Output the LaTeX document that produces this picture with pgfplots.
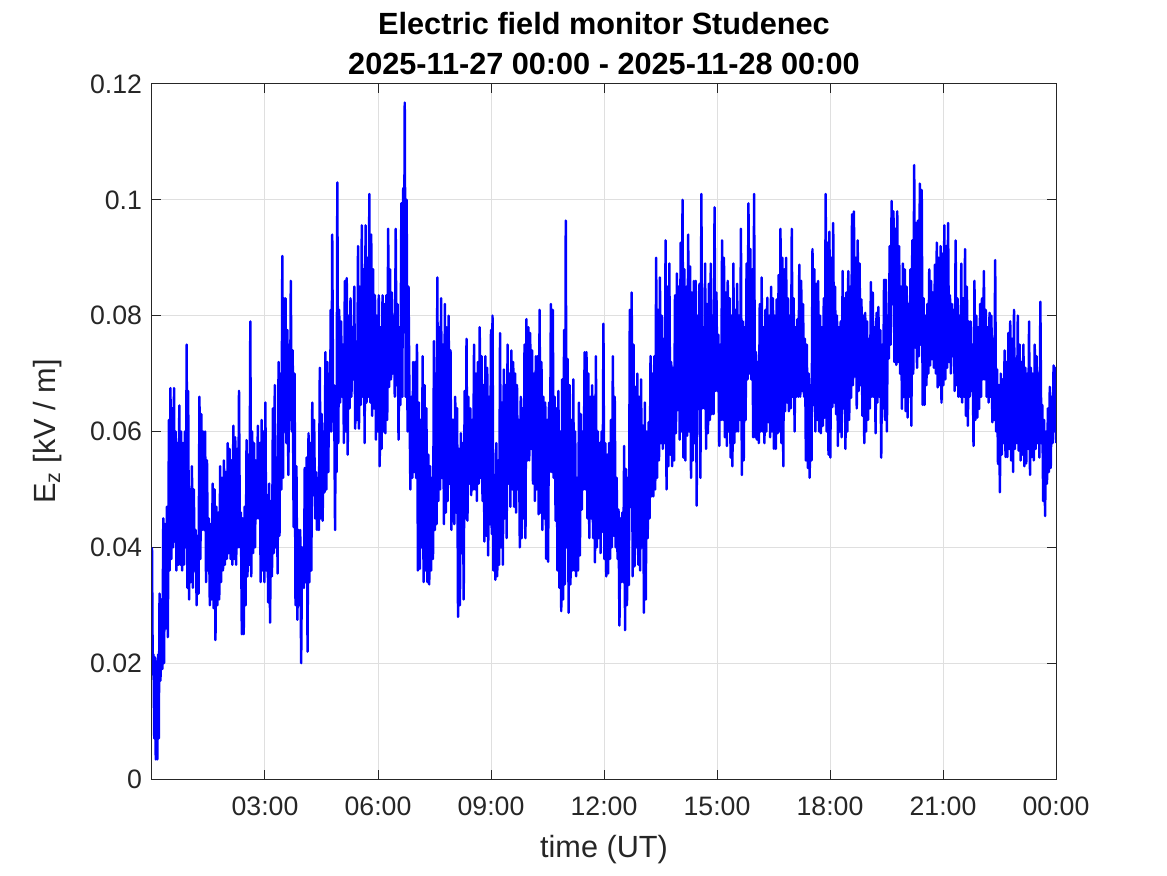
\documentclass[border=0pt]{standalone}
\usepackage{pgfplots}
\pgfplotsset{compat=1.18}
\usepackage{fontspec}
\setmainfont{Liberation Sans}
\definecolor{axgray}{RGB}{38,38,38}
\definecolor{gridgray}{RGB}{223,223,223}
\definecolor{mblue}{RGB}{0,0,255}
\begin{document}
\begin{tikzpicture}
\useasboundingbox (-114pt,-72pt) rectangle (761.25pt,584.25pt);
\begin{axis}[
 name=ax, at={(0,0)}, anchor=south west,
 scale only axis, width=678pt, height=521.25pt,
 xmin=0, xmax=24, ymin=0, ymax=0.12,
 xtick={3,6,9,12,15,18,21,24},
 xticklabels={03:00,06:00,09:00,12:00,15:00,18:00,21:00,00:00},
 ytick={0,0.02,0.04,0.06,0.08,0.1,0.12},
 yticklabels={0,0.02,0.04,0.06,0.08,0.1,0.12},
 scaled y ticks=false,
 grid=major, major grid style={gridgray, line width=0.75pt},
 axis line style={axgray, line width=0.75pt},
 major tick style={axgray, line width=0.75pt},
 major tick length=6.75pt,
 tick align=inside,
 ticklabel style={font=\fontsize{20}{24}\selectfont, text=axgray},
 xticklabel style={anchor=center, yshift=-20.25pt},
 yticklabel style={anchor=east, xshift=-4pt},
 xlabel={time (UT)}, ylabel={E\textsubscript{z} [kV / m]},
 label style={font=\fontsize{23}{27}\selectfont, text=axgray},
 xlabel style={at={(axis description cs:0.5,-0.102)}, anchor=center},
 ylabel style={at={(axis description cs:-0.116,0.5)}, anchor=center},
]
\addplot[mblue, line width=1.85pt, line join=round] coordinates {
(0.000,0.040)(0.020,0.018)(0.040,0.0215)(0.060,0.007)(0.080,0.021)(0.100,0.0034)(0.120,0.020)(0.140,0.0034)(0.160,0.0215)(0.180,0.007)
(0.200,0.032)(0.225,0.017)(0.250,0.031)(0.275,0.019)(0.300,0.045)(0.320,0.020)(0.345,0.044)(0.370,0.026)(0.395,0.047)(0.420,0.0245)
(0.450,0.062)(0.470,0.036)(0.490,0.0675)(0.515,0.038)(0.540,0.064)(0.560,0.040)(0.585,0.0675)(0.605,0.041)(0.630,0.060)(0.650,0.036)
(0.675,0.058)(0.700,0.037)(0.725,0.0645)(0.750,0.037)(0.775,0.060)(0.800,0.036)(0.825,0.058)(0.850,0.037)(0.875,0.060)(0.900,0.040)
(0.920,0.075)(0.940,0.033)(0.960,0.067)(0.985,0.031)(1.010,0.050)(1.030,0.034)(1.060,0.054)(1.085,0.033)(1.110,0.050)(1.135,0.036)
(1.160,0.043)(1.185,0.030)(1.210,0.042)(1.235,0.032)(1.260,0.066)(1.285,0.038)(1.310,0.063)(1.335,0.043)(1.360,0.060)(1.385,0.043)
(1.410,0.060)(1.435,0.034)(1.460,0.055)(1.485,0.036)(1.510,0.045)(1.535,0.030)(1.560,0.044)(1.585,0.031)(1.610,0.051)(1.635,0.0295)
(1.660,0.050)(1.685,0.024)(1.710,0.047)(1.735,0.030)(1.760,0.046)(1.785,0.031)(1.810,0.054)(1.835,0.034)(1.860,0.052)(1.885,0.036)
(1.910,0.055)(1.935,0.037)(1.960,0.053)(1.985,0.038)(2.010,0.058)(2.035,0.039)(2.060,0.057)(2.085,0.038)(2.110,0.055)(2.135,0.037)
(2.160,0.061)(2.185,0.038)(2.210,0.059)(2.235,0.037)(2.260,0.057)(2.285,0.040)(2.310,0.067)(2.335,0.040)(2.360,0.046)(2.385,0.025)
(2.410,0.045)(2.435,0.025)(2.460,0.047)(2.485,0.030)(2.510,0.0585)(2.535,0.035)(2.560,0.056)(2.585,0.037)(2.610,0.079)(2.635,0.035)
(2.660,0.060)(2.685,0.039)(2.710,0.058)(2.735,0.040)(2.760,0.055)(2.785,0.045)(2.810,0.061)(2.835,0.045)(2.860,0.058)(2.885,0.034)
(2.910,0.062)(2.935,0.036)(2.960,0.060)(2.985,0.034)(3.010,0.065)(3.035,0.036)(3.060,0.049)(3.085,0.0305)(3.110,0.051)(3.135,0.027)
(3.160,0.048)(3.185,0.035)(3.210,0.064)(3.235,0.039)(3.260,0.068)(3.285,0.040)(3.310,0.0555)(3.335,0.0355)(3.360,0.072)(3.385,0.042)
(3.410,0.070)(3.435,0.050)(3.460,0.0903)(3.480,0.052)(3.500,0.083)(3.520,0.060)(3.545,0.083)(3.570,0.058)(3.595,0.0775)(3.620,0.0525)
(3.645,0.075)(3.665,0.062)(3.685,0.086)(3.710,0.060)(3.735,0.074)(3.760,0.0435)(3.785,0.070)(3.810,0.030)(3.835,0.054)(3.860,0.0275)
(3.885,0.043)(3.910,0.030)(3.935,0.043)(3.960,0.020)(3.985,0.040)
(4.010,0.037)(4.035,0.033)(4.055,0.0537)(4.080,0.034)(4.105,0.0555)(4.130,0.022)(4.155,0.0597)(4.180,0.034)(4.205,0.058)(4.230,0.036)
(4.255,0.065)(4.280,0.049)(4.305,0.062)(4.330,0.045)(4.355,0.053)(4.380,0.043)(4.405,0.052)(4.430,0.043)(4.455,0.071)(4.480,0.045)
(4.505,0.063)(4.530,0.0446)(4.555,0.060)(4.580,0.0495)(4.605,0.0737)(4.630,0.050)(4.655,0.072)(4.680,0.053)(4.705,0.070)(4.725,0.060)
(4.745,0.081)(4.765,0.060)(4.785,0.094)(4.810,0.062)(4.835,0.068)(4.860,0.043)(4.880,0.066)(4.900,0.053)(4.920,0.103)(4.945,0.058)
(4.970,0.081)(4.995,0.065)(5.020,0.079)(5.045,0.066)(5.070,0.075)(5.095,0.058)(5.120,0.086)(5.145,0.060)(5.170,0.0865)(5.195,0.056)
(5.220,0.080)(5.245,0.064)(5.270,0.083)(5.295,0.066)(5.320,0.078)(5.345,0.069)(5.370,0.085)(5.395,0.0605)(5.420,0.0755)(5.445,0.062)
(5.470,0.092)(5.495,0.0605)(5.520,0.085)(5.545,0.0646)(5.570,0.0956)(5.595,0.066)(5.620,0.088)(5.645,0.058)(5.670,0.0956)(5.695,0.065)
(5.720,0.090)(5.745,0.066)(5.770,0.101)(5.795,0.065)(5.820,0.094)(5.845,0.0627)(5.870,0.088)(5.895,0.064)(5.920,0.0835)(5.945,0.0586)
(5.970,0.080)(5.995,0.060)(6.020,0.0835)(6.045,0.054)(6.070,0.078)(6.095,0.057)(6.120,0.0835)(6.145,0.060)(6.170,0.082)(6.195,0.0597)
(6.220,0.0835)(6.245,0.062)(6.270,0.095)(6.295,0.0677)(6.320,0.088)(6.345,0.069)(6.370,0.084)(6.395,0.070)(6.420,0.080)(6.445,0.066)
(6.470,0.095)(6.495,0.068)(6.520,0.082)(6.545,0.0586)(6.570,0.078)(6.595,0.0646)(6.620,0.0994)(6.645,0.066)(6.670,0.102)(6.690,0.081)
(6.710,0.1168)(6.735,0.066)(6.760,0.100)(6.785,0.060)(6.810,0.085)(6.835,0.066)(6.860,0.050)(6.885,0.066)(6.910,0.052)(6.935,0.072)
(6.960,0.053)(6.985,0.072)(7.010,0.052)(7.035,0.075)(7.060,0.036)(7.085,0.065)(7.110,0.0363)(7.135,0.062)(7.160,0.040)(7.185,0.073)
(7.210,0.034)(7.235,0.068)(7.260,0.036)(7.285,0.064)(7.310,0.034)(7.335,0.056)(7.360,0.0336)(7.385,0.054)(7.410,0.036)(7.435,0.052)
(7.460,0.038)(7.485,0.0756)(7.510,0.043)(7.535,0.070)(7.555,0.044)(7.575,0.0866)(7.600,0.048)(7.625,0.078)(7.650,0.050)(7.675,0.083)
(7.700,0.052)(7.725,0.075)(7.750,0.044)(7.775,0.082)(7.800,0.046)(7.825,0.078)(7.850,0.048)(7.875,0.080)(7.900,0.051)(7.925,0.074)
(7.950,0.043)(7.975,0.062)
(8.000,0.062)(8.025,0.044)(8.050,0.066)(8.075,0.046)(8.100,0.064)(8.125,0.028)(8.150,0.057)(8.175,0.030)(8.200,0.0597)(8.225,0.039)
(8.250,0.058)(8.275,0.031)(8.300,0.067)(8.325,0.045)(8.350,0.076)(8.375,0.0446)(8.400,0.066)(8.425,0.051)(8.450,0.064)(8.475,0.049)
(8.500,0.062)(8.525,0.050)(8.550,0.075)(8.575,0.050)(8.600,0.070)(8.625,0.048)(8.650,0.072)(8.675,0.051)(8.700,0.078)(8.725,0.052)
(8.750,0.073)(8.775,0.048)(8.800,0.068)(8.825,0.041)(8.850,0.073)(8.875,0.042)(8.900,0.071)(8.925,0.0386)(8.950,0.066)(8.975,0.044)
(9.000,0.0775)(9.020,0.0423)(9.040,0.080)(9.065,0.036)(9.090,0.0525)(9.115,0.0344)(9.140,0.058)(9.165,0.035)(9.190,0.055)(9.215,0.037)
(9.240,0.077)(9.265,0.040)(9.290,0.065)(9.315,0.037)(9.340,0.0707)(9.365,0.045)(9.390,0.068)(9.415,0.0416)(9.440,0.075)(9.465,0.051)
(9.490,0.070)(9.515,0.047)(9.540,0.074)(9.565,0.050)(9.590,0.072)(9.615,0.047)(9.640,0.070)(9.665,0.046)(9.690,0.068)(9.715,0.050)
(9.740,0.062)(9.765,0.040)(9.790,0.066)(9.815,0.0416)(9.840,0.064)(9.865,0.045)(9.890,0.075)(9.915,0.0416)(9.940,0.0794)(9.965,0.055)
(9.990,0.078)(10.015,0.055)(10.040,0.077)(10.065,0.057)(10.090,0.074)(10.115,0.051)(10.140,0.070)(10.165,0.048)(10.190,0.073)(10.215,0.050)
(10.240,0.073)(10.265,0.0457)(10.290,0.081)(10.315,0.046)(10.340,0.072)(10.365,0.043)(10.390,0.066)(10.415,0.045)(10.440,0.065)(10.465,0.038)
(10.490,0.062)(10.515,0.0375)(10.540,0.065)(10.565,0.053)(10.590,0.082)(10.615,0.053)(10.640,0.081)(10.665,0.052)(10.690,0.066)(10.715,0.0446)
(10.740,0.064)(10.765,0.036)(10.790,0.067)(10.815,0.033)(10.840,0.060)(10.865,0.029)(10.890,0.069)(10.915,0.031)(10.940,0.0775)(10.960,0.0336)
(10.985,0.0964)(11.010,0.040)(11.035,0.0725)(11.060,0.0287)(11.085,0.068)(11.110,0.0336)(11.135,0.062)(11.160,0.036)(11.185,0.069)(11.210,0.036)
(11.235,0.060)(11.260,0.035)(11.285,0.052)(11.310,0.036)(11.335,0.065)(11.360,0.0386)(11.385,0.063)(11.410,0.0465)(11.435,0.060)(11.460,0.050)
(11.485,0.0737)(11.510,0.050)(11.535,0.0737)(11.560,0.045)(11.585,0.070)(11.610,0.0416)(11.635,0.066)(11.660,0.045)(11.685,0.068)(11.710,0.0416)
(11.735,0.066)(11.760,0.0374)(11.785,0.073)(11.810,0.040)(11.835,0.060)(11.860,0.0416)(11.885,0.058)(11.910,0.039)(11.935,0.060)(11.960,0.0427)
(11.985,0.0786)
(12.010,0.038)(12.035,0.058)(12.060,0.035)(12.085,0.056)(12.110,0.0355)(12.135,0.058)(12.160,0.038)(12.185,0.062)(12.210,0.040)(12.235,0.073)
(12.260,0.042)(12.285,0.066)(12.310,0.040)(12.335,0.052)(12.360,0.038)(12.385,0.0465)(12.410,0.0265)(12.435,0.045)(12.460,0.034)(12.485,0.046)
(12.510,0.034)(12.535,0.0575)(12.560,0.0257)(12.585,0.0535)(12.610,0.030)(12.635,0.052)(12.660,0.0335)(12.685,0.081)(12.710,0.047)(12.735,0.084)
(12.760,0.035)(12.785,0.075)(12.810,0.0367)(12.835,0.0677)(12.860,0.040)(12.885,0.070)(12.910,0.037)(12.935,0.066)(12.960,0.036)(12.985,0.069)
(13.010,0.040)(13.035,0.061)(13.060,0.0287)(13.085,0.065)(13.110,0.031)(13.135,0.060)(13.160,0.0416)(13.185,0.0616)(13.210,0.045)(13.235,0.073)
(13.260,0.0488)(13.285,0.070)(13.310,0.0488)(13.335,0.073)(13.360,0.050)(13.385,0.090)(13.410,0.052)(13.435,0.081)(13.460,0.055)(13.485,0.0866)
(13.510,0.058)(13.535,0.080)(13.560,0.057)(13.585,0.076)(13.610,0.058)(13.635,0.093)(13.660,0.050)(13.685,0.085)(13.710,0.054)(13.735,0.089)
(13.760,0.056)(13.785,0.072)(13.810,0.054)(13.835,0.071)(13.860,0.055)(13.885,0.0835)(13.910,0.0597)(13.935,0.0873)(13.960,0.0637)(13.985,0.085)
(14.010,0.0586)(14.035,0.0926)(14.060,0.060)(14.085,0.100)(14.110,0.0555)(14.135,0.088)(14.160,0.055)(14.185,0.085)(14.210,0.0593)(14.235,0.094)
(14.260,0.060)(14.285,0.0885)(14.310,0.052)(14.335,0.084)(14.360,0.055)(14.385,0.086)(14.410,0.058)(14.435,0.086)(14.460,0.0472)(14.485,0.080)
(14.510,0.0639)(14.535,0.0855)(14.560,0.052)(14.585,0.101)(14.610,0.064)(14.635,0.078)(14.660,0.064)(14.685,0.089)(14.710,0.057)(14.735,0.082)
(14.760,0.0597)(14.785,0.0855)(14.810,0.062)(14.835,0.089)(14.860,0.063)(14.885,0.080)(14.910,0.063)(14.935,0.0987)(14.960,0.067)(14.985,0.084)
(15.010,0.067)(15.035,0.0767)(15.060,0.0575)(15.085,0.075)(15.110,0.062)(15.135,0.093)(15.160,0.062)(15.185,0.090)(15.210,0.059)(15.235,0.084)
(15.260,0.0575)(15.285,0.086)(15.310,0.060)(15.335,0.083)(15.360,0.0555)(15.385,0.080)(15.410,0.054)(15.435,0.089)(15.460,0.058)(15.485,0.081)
(15.510,0.060)(15.535,0.0855)(15.560,0.060)(15.585,0.080)(15.610,0.062)(15.635,0.095)(15.660,0.0525)(15.685,0.079)(15.710,0.055)(15.735,0.078)
(15.760,0.062)(15.785,0.089)(15.810,0.069)(15.835,0.0994)(15.860,0.070)(15.885,0.0915)(15.910,0.069)(15.935,0.088)(15.960,0.059)(15.985,0.101)
(16.010,0.059)(16.035,0.0737)(16.060,0.0586)(16.085,0.072)(16.110,0.058)(16.135,0.082)(16.160,0.060)(16.185,0.0866)(16.210,0.060)(16.235,0.078)
(16.260,0.058)(16.285,0.081)(16.310,0.060)(16.335,0.0831)(16.360,0.0616)(16.385,0.080)(16.410,0.059)(16.435,0.085)(16.460,0.060)(16.485,0.083)
(16.510,0.057)(16.535,0.080)(16.560,0.057)(16.585,0.0828)(16.610,0.0597)(16.635,0.087)(16.660,0.060)(16.685,0.095)(16.710,0.058)(16.735,0.090)
(16.760,0.054)(16.785,0.088)(16.810,0.0635)(16.835,0.090)(16.860,0.065)(16.885,0.083)(16.910,0.0635)(16.935,0.080)(16.960,0.064)(16.985,0.095)
(17.010,0.066)(17.035,0.083)(17.060,0.060)(17.085,0.078)(17.110,0.066)(17.135,0.0794)(17.160,0.066)(17.185,0.0888)(17.210,0.066)(17.235,0.086)
(17.260,0.067)(17.285,0.082)(17.310,0.066)(17.335,0.076)(17.360,0.055)(17.385,0.075)(17.410,0.0537)(17.435,0.070)(17.460,0.052)(17.485,0.068)
(17.510,0.055)(17.535,0.0915)(17.560,0.0646)(17.585,0.088)(17.610,0.060)(17.635,0.0855)(17.660,0.062)(17.685,0.086)(17.710,0.060)(17.735,0.080)
(17.760,0.0597)(17.785,0.078)(17.810,0.061)(17.835,0.083)(17.860,0.0624)(17.885,0.101)(17.910,0.060)(17.935,0.0926)(17.960,0.056)(17.985,0.0945)
(18.010,0.0555)(18.035,0.090)(18.060,0.0642)(18.085,0.096)(18.110,0.065)(18.135,0.085)(18.160,0.063)(18.185,0.080)(18.210,0.0575)(18.235,0.078)
(18.260,0.060)(18.285,0.079)(18.310,0.059)(18.335,0.0877)(18.360,0.064)(18.385,0.083)(18.410,0.057)(18.435,0.084)(18.460,0.060)(18.485,0.0877)
(18.510,0.062)(18.535,0.085)(18.560,0.0658)(18.585,0.0975)(18.610,0.068)(18.635,0.098)(18.660,0.0695)(18.685,0.090)(18.710,0.064)(18.735,0.093)
(18.760,0.067)(18.785,0.089)(18.810,0.068)(18.835,0.0828)(18.860,0.0627)(18.885,0.080)(18.910,0.058)(18.935,0.0805)(18.960,0.060)(18.985,0.079)
(19.010,0.062)(19.035,0.076)(19.060,0.064)(19.085,0.0858)(19.110,0.066)(19.135,0.084)(19.160,0.066)(19.185,0.078)(19.210,0.0597)(19.235,0.0805)
(19.260,0.065)(19.285,0.0815)(19.310,0.066)(19.335,0.0775)(19.360,0.0555)(19.385,0.075)(19.410,0.064)(19.435,0.0862)(19.460,0.062)(19.485,0.0862)
(19.510,0.060)(19.535,0.080)(19.560,0.0726)(19.585,0.092)(19.610,0.075)(19.635,0.0998)(19.660,0.082)(19.685,0.098)(19.710,0.072)(19.735,0.095)
(19.760,0.0715)(19.785,0.098)(19.810,0.072)(19.835,0.092)(19.860,0.070)(19.885,0.085)(19.910,0.0639)(19.935,0.089)(19.960,0.066)(19.985,0.088)
(20.010,0.0635)(20.035,0.085)(20.060,0.0624)(20.085,0.082)(20.110,0.066)(20.135,0.088)(20.160,0.061)(20.185,0.093)(20.210,0.070)(20.235,0.106)
(20.260,0.0745)(20.285,0.096)(20.310,0.071)(20.335,0.0964)(20.360,0.073)(20.385,0.1028)(20.410,0.075)(20.435,0.1017)(20.460,0.0646)(20.485,0.083)
(20.510,0.0646)(20.535,0.080)(20.560,0.068)(20.585,0.082)(20.610,0.070)(20.635,0.088)(20.660,0.0714)(20.685,0.086)(20.710,0.0725)(20.735,0.084)
(20.760,0.071)(20.785,0.0888)(20.810,0.070)(20.835,0.0926)(20.860,0.0676)(20.885,0.090)(20.910,0.068)(20.935,0.092)(20.960,0.065)(20.985,0.0907)
(21.010,0.068)(21.035,0.0956)(21.060,0.069)(21.085,0.092)(21.110,0.071)(21.135,0.096)(21.160,0.072)(21.185,0.0835)(21.210,0.070)(21.235,0.082)
(21.260,0.073)(21.285,0.081)(21.310,0.067)(21.335,0.093)(21.360,0.068)(21.385,0.083)(21.410,0.066)(21.435,0.080)(21.460,0.066)(21.485,0.089)
(21.510,0.065)(21.535,0.083)(21.560,0.066)(21.585,0.0915)(21.610,0.0627)(21.635,0.085)(21.660,0.061)(21.685,0.079)(21.710,0.066)(21.735,0.079)
(21.760,0.067)(21.785,0.075)(21.810,0.0575)(21.835,0.086)(21.860,0.062)(21.885,0.080)(21.910,0.0624)(21.935,0.078)(21.960,0.0639)(21.985,0.082)
(22.010,0.066)(22.035,0.083)(22.060,0.069)(22.085,0.0877)(22.110,0.069)(22.135,0.081)(22.160,0.066)(22.185,0.078)(22.210,0.065)(22.235,0.0805)
(22.260,0.066)(22.285,0.080)(22.310,0.0616)(22.335,0.076)(22.360,0.062)(22.385,0.0896)(22.410,0.060)(22.435,0.0707)(22.460,0.0544)(22.485,0.068)
(22.510,0.0495)(22.535,0.070)(22.560,0.056)(22.585,0.069)(22.610,0.058)(22.635,0.074)(22.660,0.0556)(22.685,0.072)(22.710,0.0556)(22.735,0.077)
(22.760,0.057)(22.785,0.079)(22.810,0.055)(22.835,0.076)(22.860,0.053)(22.885,0.081)(22.910,0.057)(22.935,0.0726)(22.960,0.058)(22.985,0.080)
(23.010,0.0567)(23.035,0.075)(23.060,0.055)(23.085,0.072)(23.110,0.056)(23.135,0.075)(23.160,0.054)(23.185,0.071)(23.210,0.0545)(23.235,0.070)
(23.260,0.057)(23.285,0.079)(23.310,0.0525)(23.335,0.071)(23.360,0.0556)(23.385,0.070)(23.410,0.055)(23.435,0.075)(23.460,0.057)(23.485,0.073)
(23.510,0.058)(23.535,0.070)(23.560,0.0555)(23.585,0.0824)(23.610,0.058)(23.635,0.0646)(23.660,0.048)(23.685,0.062)(23.710,0.0454)(23.735,0.060)
(23.760,0.051)(23.785,0.064)(23.810,0.053)(23.835,0.0677)(23.860,0.0537)(23.885,0.066)(23.910,0.058)(23.935,0.0714)(23.960,0.060)(23.985,0.071)
(24.000,0.058)
};
\end{axis}
\node[anchor=base, font=\bfseries\fontsize{23}{27}\selectfont] at ([yshift=36.75pt]ax.north) {Electric field monitor Studenec};
\node[anchor=base, font=\bfseries\fontsize{23}{27}\selectfont] at ([yshift=6.75pt]ax.north) {2025-11-27 00:00 - 2025-11-28 00:00};
\end{tikzpicture}
\end{document}
